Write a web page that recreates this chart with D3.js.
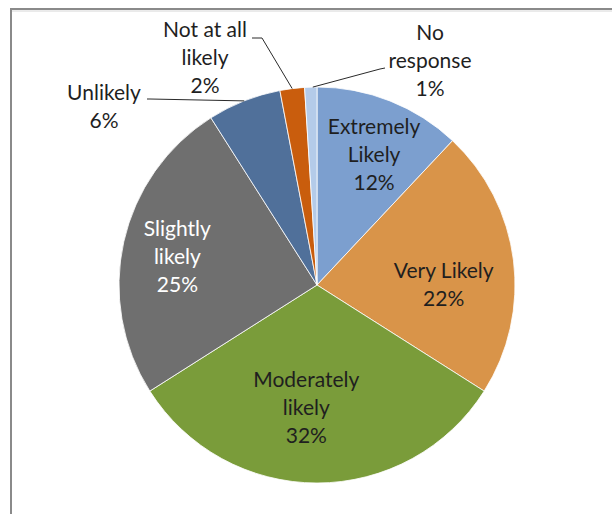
<!DOCTYPE html>
<html>
<head>
<meta charset="utf-8">
<script src="https://cdn.jsdelivr.net/npm/d3@7"></script>
<style>
  html, body { margin: 0; padding: 0; background: #fff; }
  svg { display: block; }
  text { font-family: Lato, "Open Sans", sans-serif; }
</style>
</head>
<body>
<svg id="chart" width="612" height="514"></svg>
<script>
// Likelihood responses, clockwise from 12 o'clock
const categories = ["Extremely Likely", "Very Likely", "Moderately likely", "Slightly likely", "Unlikely", "Not at all likely", "No response"];
const values = [12, 22, 32, 25, 6, 2, 1];
const labelLines = [
  ["Extremely", "Likely"],
  ["Very Likely"],
  ["Moderately", "likely"],
  ["Slightly", "likely"],
  ["Unlikely"],
  ["Not at all", "likely"],
  ["No", "response"]
];
const colors = ["#7c9fcf", "#d99449", "#7a9c3a", "#6f6f6f", "#50709a", "#c95d0d", "#b4cbe9"];

const svg = d3.select("#chart");
const W = 612, H = 514;
const cx = 317, cy = 285, R = 198;
const fontSize = 21, lineH = 28;

// chart frame (extends past the bottom/right of the view)
svg.append("rect")
  .attr("x", 11).attr("y", 9).attr("width", W + 20).attr("height", H + 20)
  .attr("fill", "#fff").attr("stroke", "#8a8a8a").attr("stroke-width", 2);
svg.append("line").attr("x1", 12).attr("x2", W).attr("y1", 11).attr("y2", 11)
  .attr("stroke", "#d6d6d6").attr("stroke-width", 1);

const pie = d3.pie().sort(null).value(d => d)(values);
const arc = d3.arc().innerRadius(0).outerRadius(R);

const g = svg.append("g").attr("transform", `translate(${cx},${cy})`);
g.selectAll("path.slice").data(pie).join("path")
  .attr("class", "slice")
  .attr("d", arc)
  .attr("fill", (d, i) => colors[i])
  .attr("stroke", "#fff").attr("stroke-width", 0.8);

// inside labels: radial position as a fraction of R, plus small angle offsets
const inside = {
  0: { r: 0.72, da: 2, color: "#1f1f1f" },
  1: { r: 0.64, da: 7, color: "#1f1f1f" },
  2: { r: 0.62, da: 5, color: "#1f1f1f" },
  3: { r: 0.72, da: -1, color: "#ffffff" }
};
function polar(angleDeg, r) {
  const a = angleDeg * Math.PI / 180;
  return [r * Math.sin(a), -r * Math.cos(a)];
}
function drawLabel(x, y, lines, color) {
  const n = lines.length;
  const t = g.append("text")
    .attr("text-anchor", "middle")
    .attr("font-size", fontSize)
    .attr("fill", color);
  lines.forEach((s, k) => {
    t.append("tspan")
      .attr("x", x)
      .attr("y", y + (k - (n - 1) / 2) * lineH + fontSize * 0.35)
      .text(s);
  });
  return t;
}

pie.forEach((d, i) => {
  const lines = labelLines[i].concat([values[i] + "%"]);
  const mid = (d.startAngle + d.endAngle) / 2 * 180 / Math.PI;
  if (inside[i]) {
    const o = inside[i];
    const [x, y] = polar(mid + o.da, R * o.r);
    drawLabel(x, y, lines, o.color);
  }
});

// outside labels with leader lines
const outside = {
  4: { x: -213, y: -178, elbow: [-170, -186] },
  5: { x: -112, y: -227, elbow: [-55, -247] },
  6: { x: 113, y: -224, elbow: [68, -217] }
};
Object.keys(outside).forEach(k => {
  const i = +k, d = pie[i], o = outside[k];
  const mid = (d.startAngle + d.endAngle) / 2 * 180 / Math.PI;
  const [px, py] = polar(mid, R);
  const lines = labelLines[i].concat([values[i] + "%"]);
  drawLabel(o.x, o.y, lines, "#1f1f1f");
  let pts;
  if (i === 4) pts = [[px, py], [o.elbow[0] + 3, o.elbow[1]], [o.elbow[0], o.elbow[1]]];
  if (i === 5) pts = [[px, py], [o.elbow[0], o.elbow[1]], [o.elbow[0] - 10, o.elbow[1]]];
  if (i === 6) pts = [[px + 2, py], [o.elbow[0] - 5, o.elbow[1] + 1], [o.elbow[0], o.elbow[1]]];
  g.append("path")
    .attr("d", d3.line()(pts))
    .attr("fill", "none").attr("stroke", "#2a2a2a").attr("stroke-width", 1);
});
</script>
</body>
</html>
